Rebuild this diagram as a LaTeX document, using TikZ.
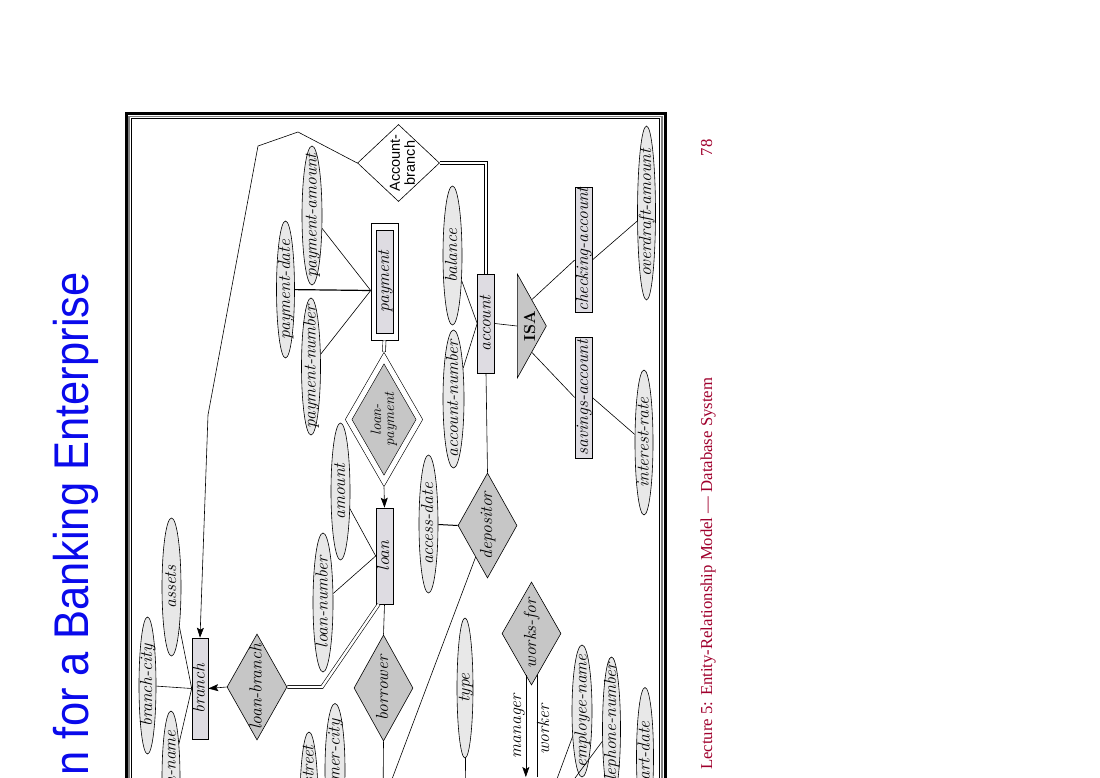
\documentclass[tikz,border=0pt]{standalone}
\usepackage{fontspec}
\usetikzlibrary{shapes.geometric,arrows.meta,calc}
\newfontfamily\arialfont{Liberation Sans}
\newfontfamily\timesfont{Liberation Serif}
\definecolor{entfill}{RGB}{222,220,226}
\definecolor{attrfill}{RGB}{232,232,232}
\definecolor{relfill}{RGB}{198,198,198}
\definecolor{footred}{RGB}{160,0,45}
\definecolor{titleblue}{RGB}{10,10,235}
% zero-size label box, so the node size comes from minimum width/height
\newcommand{\lbl}[1]{\raisebox{-0.6ex}[0pt][0pt]{\makebox[0pt]{#1}}}
\newcommand{\erfont}{\fontsize{17.5}{17.5}\selectfont\itshape}

\begin{document}
\begin{tikzpicture}[x=1pt, y=-1pt, line width=0.6pt]
    % Define styles
    \tikzstyle{entity} = [rectangle, draw, fill=entfill, rotate=90, inner sep=0pt, font=\erfont]
    \tikzstyle{attr} = [ellipse, draw, fill=attrfill, rotate=90, inner sep=0pt, font=\erfont]
    \tikzstyle{rel} = [diamond, draw, fill=relfill, rotate=90, inner sep=0pt, font=\erfont]
    \tikzstyle{weakrel} = [rel, double, double distance=5pt]
    \tikzstyle{isa} = [isosceles triangle, isosceles triangle stretches, draw, fill=relfill, inner sep=0pt, font=\fontsize{16}{16}\selectfont\bfseries]
    \tikzstyle{role} = [rotate=90, inner sep=0pt, font=\erfont]
    \tikzstyle{total} = [double, double distance=2.4pt]
    \tikzstyle{arrow} = [-{Stealth[length=10pt,width=7pt,inset=2pt]}]

    \path [fill=white, use as bounding box] (0,0) rectangle (1100,778);
    \clip (0,0) rectangle (1100,778);

    % Slide title, footer and frame
    \node (title) [rotate=90, anchor=base east, inner sep=0pt, text=titleblue, font=\arialfont\fontsize{43.5}{43.5}\selectfont] at (88,272) {\scalebox{1}[1.12]{n for a Banking Enterprise}};
    \node (footer) [rotate=90, anchor=base west, inner sep=0pt, text=footred, font=\timesfont\fontsize{16.7}{16.7}\selectfont] at (712,770) {Lecture 5: Entity-Relationship Model — Database System};
    \node (pagenum) [rotate=90, anchor=base, inner sep=0pt, text=footred, font=\timesfont\fontsize{16.7}{16.7}\selectfont] at (712,148) {78};

    \draw [line width=3pt] (126.5,113.5) rectangle (665,800);
    \draw [line width=1.2pt, gray] (129,116.2) rectangle (662,800);
    \draw [line width=1.5pt] (131.3,118.6) rectangle (659.5,800);

    % Entities
    \node (payment) [entity, fill=white, minimum width=117pt, minimum height=27pt] at (384.5,281.5) {};
    \node (paymentbox) [entity, minimum width=103pt, minimum height=17pt] at (payment) {\lbl{payment}};
    \node (loan) [entity, minimum width=96pt, minimum height=17pt] at (384.5,556) {\lbl{loan}};
    \node (branch) [entity, minimum width=101pt, minimum height=16pt] at (200,688.5) {\lbl{branch}};
    \node (account) [entity, minimum width=99pt, minimum height=17pt] at (486,323.5) {\lbl{account}};
    \node (checking) [entity, minimum width=125pt, minimum height=17pt] at (583.5,249.5) {\lbl{checking-account}};
    \node (savings) [entity, minimum width=121pt, minimum height=17pt] at (583.5,397.5) {\lbl{savings-account}};

    % Relationships
    \node (acctbranch) [rel, fill=white, minimum width=77pt, minimum height=82pt, font=\arialfont\fontsize{14.5}{14.5}\selectfont] at (398.5,163) {\lbl{\raisebox{-5pt}{\begin{tabular}{@{}c@{}}Account-\\branch\end{tabular}}}};
    \node (loanpay) [weakrel, minimum width=123pt, minimum height=71pt, font=\fontsize{15}{12.5}\selectfont\itshape] at (384,419.5) {\lbl{\begin{tabular}{@{}c@{}}loan-\\payment\end{tabular}}};
    \node (loanbranch) [rel, minimum width=106pt, minimum height=60pt] at (257,687) {\lbl{loan-branch}};
    \node (borrower) [rel, minimum width=106pt, minimum height=59pt] at (383.5,688) {\lbl{borrower}};
    \node (depositor) [rel, minimum width=105pt, minimum height=59pt] at (487.5,525.5) {\lbl{depositor}};
    \node (worksfor) [rel, minimum width=103pt, minimum height=59pt] at (531.5,633.5) {\lbl{works-for}};
    \node (isa) [isa, minimum width=104pt, minimum height=29pt, anchor=lower side] at (517,326) {\rotatebox{90}{\lbl{ISA}}};

    % Attributes
    \node (pamount) [attr, minimum width=139pt, minimum height=20pt] at (312,215.5) {\lbl{payment-amount}};
    \node (pdate) [attr, minimum width=137pt, minimum height=18pt] at (285.5,289.5) {\lbl{payment-date}};
    \node (pnumber) [attr, minimum width=137pt, minimum height=19pt] at (311,366.5) {\lbl{payment-number}};
    \node (amount) [attr, minimum width=137pt, minimum height=19pt] at (340.5,491.5) {\lbl{amount}};
    \node (loannumber) [attr, minimum width=139pt, minimum height=20pt] at (323,602.5) {\lbl{loan-number}};
    \node (accessdate) [attr, minimum width=138pt, minimum height=19pt] at (428.5,524) {\lbl{access-date}};
    \node (acctnumber) [attr, minimum width=138pt, minimum height=21pt] at (453.5,399) {\lbl{account-number}};
    \node (balance) [attr, minimum width=139pt, minimum height=19pt] at (452.5,255.5) {\lbl{balance}};
    \node (overdraft) [attr, minimum width=174pt, minimum height=18pt] at (646.5,213) {\lbl{overdraft-amount}};
    \node (interest) [attr, minimum width=145pt, minimum height=18pt] at (644,442.5) {\lbl{interest-rate}};
    \node (assets) [attr, minimum width=138pt, minimum height=19pt] at (171.5,587) {\lbl{assets}};
    \node (bcity) [attr, minimum width=137pt, minimum height=17pt] at (147.5,685.5) {\lbl{branch-city}};
    \node (bname) [attr, minimum width=134pt, minimum height=18pt] at (171,778) {\lbl{branch-name}};
    \node (cstreet) [attr, minimum width=140pt, minimum height=18pt] at (309,802) {\lbl{customer-street}};
    \node (ccity) [attr, minimum width=133pt, minimum height=20pt] at (335,770) {\lbl{customer-city}};
    \node (type) [attr, minimum width=140pt, minimum height=16pt] at (465,688) {\lbl{type}};
    \node (empname) [attr, minimum width=132pt, minimum height=20pt] at (582,711) {\lbl{employee-name}};
    \node (telnum) [attr, minimum width=144pt, minimum height=18pt] at (611.5,729) {\lbl{telephone-number}};
    \node (startdate) [attr, minimum width=139pt, minimum height=17pt] at (645,757) {\lbl{start-date}};

    % Entities below the cut
    \coordinate (customer) at (383,803);
    \coordinate (custbanker) at (466,840);
    \coordinate (employee) at (540,825);
    \coordinate (emptop) at (540,777);

    % Role labels
    \node (mgrlabel) [role, anchor=base] at (521,726) {manager};
    \node (wkrlabel) [role, anchor=base] at (549,729.5) {worker};

    % Connectors
    \draw [arrow] (acctbranch.north) -- (298,132) -- (258,146) -- (208,415) -- (branch.east);
    \draw [total] (acctbranch.south) -| (account.east);
    \draw (account.west) -- (depositor.east);
    \draw [line width=1pt] (depositor.north) -- (accessdate);
    \draw (depositor) -- (customer);
    \draw (borrower.west) -- (customer);

    \draw [total] (payment.west) -- ([yshift=6pt]loanpay.east);
    \draw [arrow] ([yshift=-6pt]loanpay.west) -- (loan.east);
    \coordinate (payfan) at ([yshift=-9pt]payment.north);
    \draw (pamount) -- (payfan);
    \draw [line width=1.2pt] (pdate) -- (payfan);
    \draw (pnumber) -- (payfan);

    \draw (amount) -- (loan.north);
    \draw (loannumber) -- (loan.north);
    \draw (loan.west) -- (borrower.east);
    \draw [total] ([xshift=3pt]loan.north west) -- (322,687) -- (loanbranch.south);
    \draw [arrow] (loanbranch.north) -- (branch.south);
    \draw (bcity) -- (branch.north);
    \draw (assets) -- (branch.north);
    \draw (bname) -- (branch.north);

    \draw (balance) -- (account.north);
    \draw (acctnumber) -- (account.north);
    \draw (account.south) -- (isa.lower side);
    \draw (isa.left side) -- ([yshift=-10.5pt]checking.north);
    \draw (isa.right side) -- (savings.north);
    \draw ([yshift=-10.5pt]checking.south) -- (overdraft);
    \draw (savings.south) -- (interest);

    \draw (type) -- (custbanker);
    \draw [arrow] ($(worksfor.west)!0.19!(worksfor.north)$) coordinate (mgr) -- (mgr |- emptop);
    \draw ($(worksfor.west)!0.19!(worksfor.south)$) coordinate (wkr) -- (wkr |- emptop);
    \draw (empname) -- (employee);
    \draw (telnum) -- (employee);

\end{tikzpicture}
\end{document}
